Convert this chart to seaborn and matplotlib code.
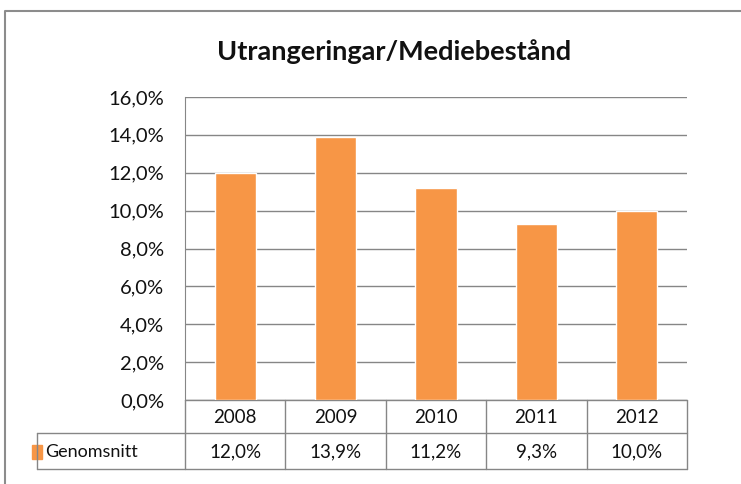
import matplotlib
matplotlib.use("Agg")
import matplotlib.pyplot as plt
import seaborn as sns
import pandas as pd
from matplotlib.lines import Line2D
from matplotlib.patches import Rectangle

years = ["2008", "2009", "2010", "2011", "2012"]
values = [0.120, 0.139, 0.112, 0.093, 0.100]
series_name = "Genomsnitt"
title = "Utrangeringar/Mediebestånd"
y_ticks = [0.0, 0.02, 0.04, 0.06, 0.08, 0.10, 0.12, 0.14, 0.16]

orange = "#F79646"
grid = "#868686"
font = ["Lato", "DejaVu Sans"]

sns.set_style("white")
plt.rcParams["font.family"] = font

W, H = 741, 484
fig = plt.figure(figsize=(W / 100, H / 100), dpi=100)

# overlay in pixel coordinates (y downward) for frame and table
over = fig.add_axes([0, 0, 1, 1])
over.set_xlim(0, W)
over.set_ylim(H, 0)
over.axis("off")

# plot area
left, right, top, bottom = 185, 687, 97, 400
ax = fig.add_axes([left / W, 1 - bottom / H, (right - left) / W, (bottom - top) / H])
df = pd.DataFrame({"year": years, "value": values})
sns.barplot(data=df, x="year", y="value", color=orange, width=0.41,
            saturation=1, ax=ax, zorder=3)
ax.set_ylim(0, 0.16)
ax.set_xlim(-0.5, len(years) - 0.5)
ax.set_yticks(y_ticks)
ax.set_yticklabels([f"{v * 100:.1f}%".replace(".", ",") for v in y_ticks],
                   fontsize=14.5, color="#111111")
ax.tick_params(axis="y", length=7, color=grid, width=1, pad=8)
ax.set_xticks([])
ax.set_xlabel("")
ax.set_ylabel("")
ax.yaxis.grid(True, color=grid, linewidth=1)
ax.set_axisbelow(True)
for s in ["top", "right", "bottom"]:
    ax.spines[s].set_visible(False)
ax.spines["left"].set_color(grid)
ax.patch.set_alpha(0)

# outer chart frame
over.add_line(Line2D([5, 5, W + 5], [H + 5, 11, 11], color="#8c8c8c", lw=1.5))

# title
fig.text(394 / W, 1 - 52 / H, title, ha="center", va="center",
         fontsize=19.5, fontweight="bold", color="#111111")

# data table
row1, row2, row3 = bottom, 433, 469
legend_left = 37
col_edges = [left + i * (right - left) / len(years) for i in range(len(years) + 1)]
lc = dict(color=grid, lw=1)
over.add_line(Line2D([left, right], [row1, row1], **lc))
over.add_line(Line2D([legend_left, right], [row2, row2], **lc))
over.add_line(Line2D([legend_left, right], [row3, row3], **lc))
over.add_line(Line2D([legend_left, legend_left], [row2, row3], **lc))
for xe in col_edges:
    over.add_line(Line2D([xe, xe], [row1, row3], **lc))
for i, (yr, v) in enumerate(zip(years, values)):
    cx = (col_edges[i] + col_edges[i + 1]) / 2
    over.text(cx, (row1 + row2) / 2 + 1, yr, ha="center", va="center",
              fontsize=13.5, color="#111111")
    over.text(cx, (row2 + row3) / 2 + 1, f"{v * 100:.1f}%".replace(".", ","),
              ha="center", va="center", fontsize=13.5, color="#111111")
over.add_patch(Rectangle((32, 445), 10, 14, color=orange))
over.text(45, (row2 + row3) / 2 + 1, series_name, ha="left", va="center",
          fontsize=13, color="#111111")

fig.savefig("out.png", dpi=100)
